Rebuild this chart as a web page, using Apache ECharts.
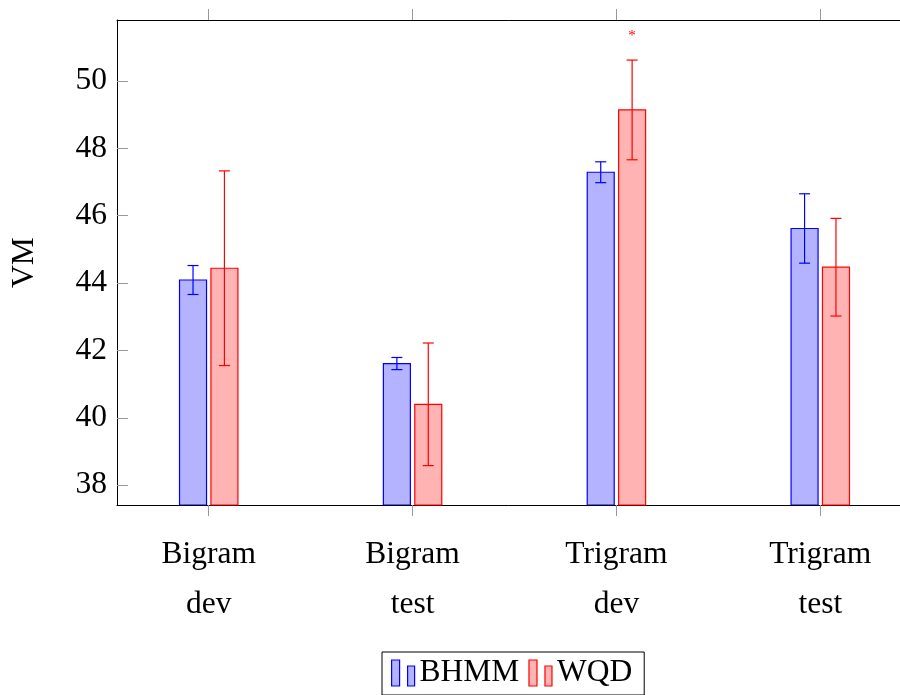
<!DOCTYPE html>
<html>
<head>
<meta charset="utf-8">
<script src="https://cdn.jsdelivr.net/npm/echarts@6/dist/echarts.min.js"></script>
<style>html,body{margin:0;padding:0;background:#fff}#c{width:900px;height:695px}</style>
</head>
<body>
<div id="c"></div>
<script>
const categories = ['Bigram\ndev', 'Bigram\ntest', 'Trigram\ndev', 'Trigram\ntest'];
const seriesNames = ['BHMM', 'WQD'];
const bhmmValues = [44.09, 41.61, 47.29, 45.62];
const bhmmErrors = [0.43, 0.18, 0.31, 1.03];
const wqdValues = [44.44, 40.40, 49.14, 44.47];
const wqdErrors = [2.89, 1.82, 1.48, 1.45];
const wqdMarks = ['', '', '*', ''];
const yTicks = [38, 40, 42, 44, 46, 48, 50];
const xTicks = [0, 1, 2, 3];

const FONT = '"Liberation Serif", "DejaVu Serif", serif';
const FS = 31.5;
const styles = [
  {fill: '#b3b3ff', stroke: '#0000ff', offset: -15.7},
  {fill: '#ffb3b3', stroke: '#ff0000', offset: 15.7}
];
const BAR_W = 27, CAP = 11;

function makeRender(st) {
  return function (params, api) {
    const cs = params.coordSys;
    const x = api.value(0), v = api.value(1), e = api.value(2);
    const top = api.coord([x, v]);
    const cx = top[0] + st.offset;
    const bottom = cs.y + cs.height;
    const hi = api.coord([x, v + e])[1];
    const lo = api.coord([x, v - e])[1];
    const children = [
      {type: 'rect', shape: {x: cx - BAR_W / 2, y: top[1], width: BAR_W, height: bottom - top[1]},
       style: {fill: st.fill, stroke: st.stroke, lineWidth: 1.2}},
      {type: 'line', shape: {x1: cx, y1: hi, x2: cx, y2: lo}, style: {stroke: st.stroke, lineWidth: 1.2}},
      {type: 'line', shape: {x1: cx - CAP / 2, y1: hi, x2: cx + CAP / 2, y2: hi}, style: {stroke: st.stroke, lineWidth: 1.2}},
      {type: 'line', shape: {x1: cx - CAP / 2, y1: lo, x2: cx + CAP / 2, y2: lo}, style: {stroke: st.stroke, lineWidth: 1.2}}
    ];
    const mark = api.value(3);
    if (mark && mark !== '-') {
      children.push({type: 'text', x: cx, y: hi - 24,
        style: {text: String(mark), fill: st.stroke, font: '15px ' + FONT, align: 'center', verticalAlign: 'middle'}});
    }
    return {type: 'group', children: children};
  };
}

const bhmmData = bhmmValues.map((v, i) => [xTicks[i], v, bhmmErrors[i], '']);
const wqdData = wqdValues.map((v, i) => [xTicks[i], v, wqdErrors[i], wqdMarks[i]]);

const iconPath = 'path://M0,0H8V26H0Z M16,6H23V26H16Z';

const chart = echarts.init(document.getElementById('c'), null, {renderer: 'canvas'});
chart.setOption({
  animation: false,
  backgroundColor: '#fff',
  textStyle: {fontFamily: FONT},
  grid: {left: 117, top: 20, width: 795, height: 485, outerBoundsMode: 'none', containLabel: false},
  legend: {
    left: 382, top: 652,
    padding: [5, 12, 6, 9],
    borderColor: '#000', borderWidth: 1, borderRadius: 0,
    itemWidth: 23, itemHeight: 26, itemGap: 9,
    icon: iconPath,
    textStyle: {fontFamily: FONT, fontSize: FS, color: '#000'},
    data: [
      {name: seriesNames[0], itemStyle: {color: styles[0].fill, borderColor: styles[0].stroke, borderWidth: 1.2}},
      {name: seriesNames[1], itemStyle: {color: styles[1].fill, borderColor: styles[1].stroke, borderWidth: 1.2}}
    ]
  },
  xAxis: [
    {
      type: 'value', min: -0.45, max: 3.45, position: 'bottom',
      splitLine: {show: false},
      axisLine: {show: true, onZero: false, lineStyle: {color: '#000', width: 1}},
      axisTick: {show: true, inside: false, length: 11, customValues: xTicks, lineStyle: {color: '#999'}},
      axisLabel: {show: true, customValues: xTicks, margin: 25, fontFamily: FONT, fontSize: FS, color: '#000', lineHeight: 50,
        formatter: v => categories[Math.round(v)] || ''}
    },
    {
      type: 'value', min: -0.45, max: 3.45, position: 'top',
      splitLine: {show: false},
      axisLine: {show: true, onZero: false, lineStyle: {color: '#000', width: 1}},
      axisTick: {show: true, inside: false, length: 11, customValues: xTicks, lineStyle: {color: '#999'}},
      axisLabel: {show: false}
    }
  ],
  yAxis: [
    {
      type: 'value', min: 37.41, max: 51.81, position: 'left',
      name: 'VM', nameLocation: 'middle', nameGap: 76, nameRotate: 90,
      nameTextStyle: {fontFamily: FONT, fontSize: FS, color: '#000'},
      splitLine: {show: false},
      axisLine: {show: true, onZero: false, lineStyle: {color: '#000', width: 1}},
      axisTick: {show: true, inside: true, length: 11, customValues: yTicks, lineStyle: {color: '#999'}},
      axisLabel: {show: true, customValues: yTicks, margin: 10, fontFamily: FONT, fontSize: FS, color: '#000'}
    },
    {
      type: 'value', min: 37.41, max: 51.81, position: 'right',
      splitLine: {show: false},
      axisLine: {show: true, onZero: false, lineStyle: {color: '#000', width: 1}},
      axisTick: {show: false}, axisLabel: {show: false}
    }
  ],
  series: [
    {name: seriesNames[0], type: 'custom', renderItem: makeRender(styles[0]), data: bhmmData,
     itemStyle: {color: styles[0].fill, borderColor: styles[0].stroke}, encode: {x: 0, y: 1}, clip: true, z: 1},
    {name: seriesNames[1], type: 'custom', renderItem: makeRender(styles[1]), data: wqdData,
     itemStyle: {color: styles[1].fill, borderColor: styles[1].stroke}, encode: {x: 0, y: 1}, clip: false, z: 1}
  ]
});
</script>
</body>
</html>
